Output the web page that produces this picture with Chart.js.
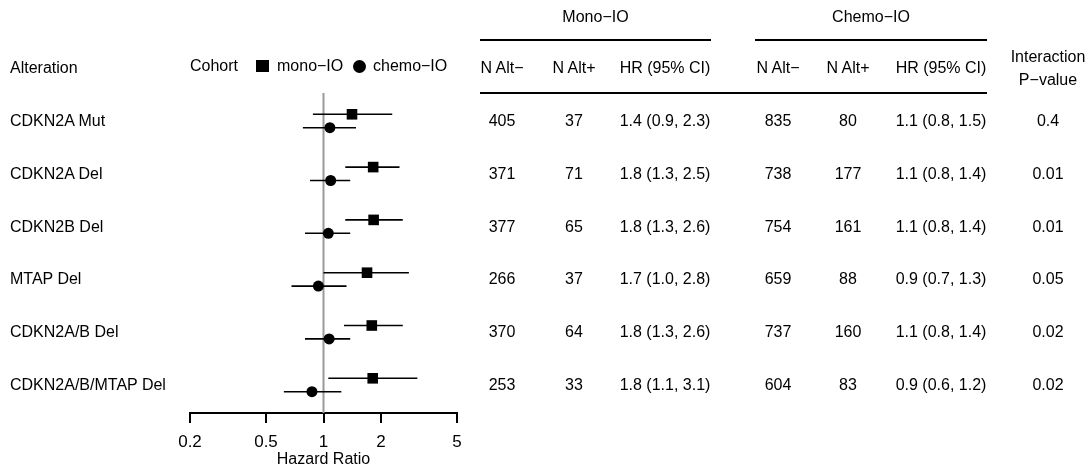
<!DOCTYPE html>
<html>
<head>
<meta charset="utf-8">
<script src="https://cdn.jsdelivr.net/npm/chart.js@4/dist/chart.umd.min.js"></script>
<style>
  html, body { margin: 0; padding: 0; background: #fff; }
  body { width: 1086px; height: 469px; position: relative; overflow: hidden;
         font-family: "Liberation Sans", Arial, sans-serif; font-size: 16px; color: #000; }
  #wrap { position: absolute; left: 0; top: 0; width: 1086px; height: 469px; }
  .t { position: absolute; white-space: nowrap; line-height: 1; }
  .c { transform: translate(-50%, -50%); }
  .l { transform: translate(0, -50%); }
  .rule { position: absolute; height: 2px; background: #000; }
</style>
</head>
<body>
<div id="wrap"><canvas id="forest" width="1086" height="469"></canvas></div>
<div id="texts"></div>
<script>
'use strict';

let alterations = ['CDKN2A Mut', 'CDKN2A Del', 'CDKN2B Del', 'MTAP Del', 'CDKN2A/B Del', 'CDKN2A/B/MTAP Del'];

let monoNeg = [405, 371, 377, 266, 370, 253];
let monoPos = [37, 71, 65, 37, 64, 33];
let monoHR = [1.41, 1.82, 1.83, 1.69, 1.79, 1.81];
let monoLo = [0.88, 1.3, 1.3, 1.0, 1.28, 1.06];
let monoHi = [2.29, 2.5, 2.6, 2.8, 2.6, 3.1];

let chemoNeg = [835, 738, 754, 659, 737, 604];
let chemoPos = [80, 177, 161, 88, 160, 83];
let chemoHR = [1.08, 1.09, 1.06, 0.94, 1.07, 0.87];
let chemoLo = [0.78, 0.85, 0.8, 0.68, 0.8, 0.62];
let chemoHi = [1.48, 1.38, 1.38, 1.32, 1.38, 1.24];

let pValues = ['0.4', '0.01', '0.01', '0.05', '0.02', '0.02'];

let xTicks = [0.2, 0.5, 1, 2, 5];

// ---- text part of the table ----
let texts = document.getElementById('texts');

function addText(str, x, y, cls) {
    let d = document.createElement('div');
    d.className = 't ' + cls;
    d.style.left = x + 'px';
    d.style.top = y + 'px';
    d.textContent = str;
    texts.appendChild(d);
    return d;
}

function addRule(x1, x2, y) {
    let d = document.createElement('div');
    d.className = 'rule';
    d.style.left = x1 + 'px';
    d.style.width = (x2 - x1) + 'px';
    d.style.top = (y - 1) + 'px';
    texts.appendChild(d);
}

function fmt(hr, lo, hi) {
    return `${hr.toFixed(1)} (${lo.toFixed(1)}, ${hi.toFixed(1)})`;
}

let rowY = [];
for (let i = 0; i < alterations.length; i++) {
    rowY.push(121 + 52.8 * i);
}

let cols = [502, 574, 665, 778, 848, 941, 1048];

addText('Mono\u2212IO', 595.5, 17, 'c');
addText('Chemo\u2212IO', 871, 17, 'c');
addRule(480, 711, 40);
addRule(755, 987, 40);
addRule(480, 987, 93);

addText('Alteration', 10, 68, 'l');
addText('N Alt\u2212', cols[0], 68, 'c');
addText('N Alt+', cols[1], 68, 'c');
addText('HR (95% CI)', cols[2], 68, 'c');
addText('N Alt\u2212', cols[3], 68, 'c');
addText('N Alt+', cols[4], 68, 'c');
addText('HR (95% CI)', cols[5], 68, 'c');
addText('Interaction', cols[6], 57, 'c');
addText('P\u2212value', cols[6], 80, 'c');

// legend
addText('Cohort', 190, 66, 'l');
let sq = document.createElement('div');
sq.style.cssText = 'position:absolute;left:256px;top:60px;width:13px;height:12px;background:#000;';
texts.appendChild(sq);
addText('mono\u2212IO', 277, 66, 'l');
let dot = document.createElement('div');
dot.style.cssText = 'position:absolute;left:353px;top:60px;width:13px;height:13px;border-radius:50%;background:#000;';
texts.appendChild(dot);
addText('chemo\u2212IO', 373, 66, 'l');

for (let i = 0; i < alterations.length; i++) {
    let y = rowY[i];
    addText(alterations[i], 10, y, 'l');
    addText(String(monoNeg[i]), cols[0], y, 'c');
    addText(String(monoPos[i]), cols[1], y, 'c');
    addText(fmt(monoHR[i], monoLo[i], monoHi[i]), cols[2], y, 'c');
    addText(String(chemoNeg[i]), cols[3], y, 'c');
    addText(String(chemoPos[i]), cols[4], y, 'c');
    addText(fmt(chemoHR[i], chemoLo[i], chemoHi[i]), cols[5], y, 'c');
    addText(pValues[i], cols[6], y, 'c');
}

// ---- forest plot ----
let yMin = -0.53;
let yMax = 5.53;
let off = 0.127;

let datasets = [];

datasets.push({
    type: 'line',
    data: [{ x: 1, y: yMin }, { x: 1, y: yMax }],
    borderColor: '#9a9a9a',
    borderWidth: 2,
    pointRadius: 0,
    order: 20
});

for (let i = 0; i < alterations.length; i++) {
    datasets.push({
        type: 'line',
        data: [{ x: monoLo[i], y: i - off }, { x: monoHi[i], y: i - off }],
        borderColor: '#000',
        borderWidth: 1.6,
        pointRadius: 0,
        order: 10
    });
    datasets.push({
        type: 'line',
        data: [{ x: chemoLo[i], y: i + off }, { x: chemoHi[i], y: i + off }],
        borderColor: '#000',
        borderWidth: 1.6,
        pointRadius: 0,
        order: 10
    });
}

datasets.push({
    label: 'mono-IO',
    data: monoHR.map((v, i) => ({ x: v, y: i - off })),
    pointStyle: 'rect',
    pointRadius: 7.5,
    backgroundColor: '#000',
    borderColor: '#000',
    borderWidth: 0,
    order: 1
});
datasets.push({
    label: 'chemo-IO',
    data: chemoHR.map((v, i) => ({ x: v, y: i + off })),
    pointStyle: 'circle',
    pointRadius: 5.5,
    backgroundColor: '#000',
    borderColor: '#000',
    borderWidth: 0,
    order: 1
});

let ctx = document.getElementById('forest').getContext('2d');

let forest = new Chart(ctx, {
    type: 'scatter',
    data: { datasets: datasets },
    options: {
        responsive: false,
        animation: false,
        events: [],
        layout: { padding: { left: 190, right: 629, top: 93, bottom: 0 } },
        plugins: { legend: { display: false }, tooltip: { enabled: false } },
        scales: {
            x: {
                type: 'logarithmic',
                min: 0.2,
                max: 5,
                afterBuildTicks: (scale) => {
                    scale.ticks = xTicks.map(v => ({ value: v }));
                },
                afterFit: (scale) => { scale.height = 56; },
                ticks: {
                    color: '#000',
                    font: { family: 'Liberation Sans', size: 17 },
                    padding: 9,
                    maxRotation: 0,
                    autoSkip: false,
                    callback: (v) => String(v)
                },
                grid: {
                    drawOnChartArea: false,
                    drawTicks: true,
                    tickLength: 10,
                    color: '#000',
                    lineWidth: 2
                },
                border: { display: true, color: '#000', width: 2 },
                title: {
                    display: true,
                    text: 'Hazard Ratio',
                    color: '#000',
                    font: { family: 'Liberation Sans', size: 16 },
                    padding: { top: 0, bottom: 0 }
                }
            },
            y: {
                display: false,
                reverse: true,
                min: yMin,
                max: yMax
            }
        }
    }
});
</script>
</body>
</html>
